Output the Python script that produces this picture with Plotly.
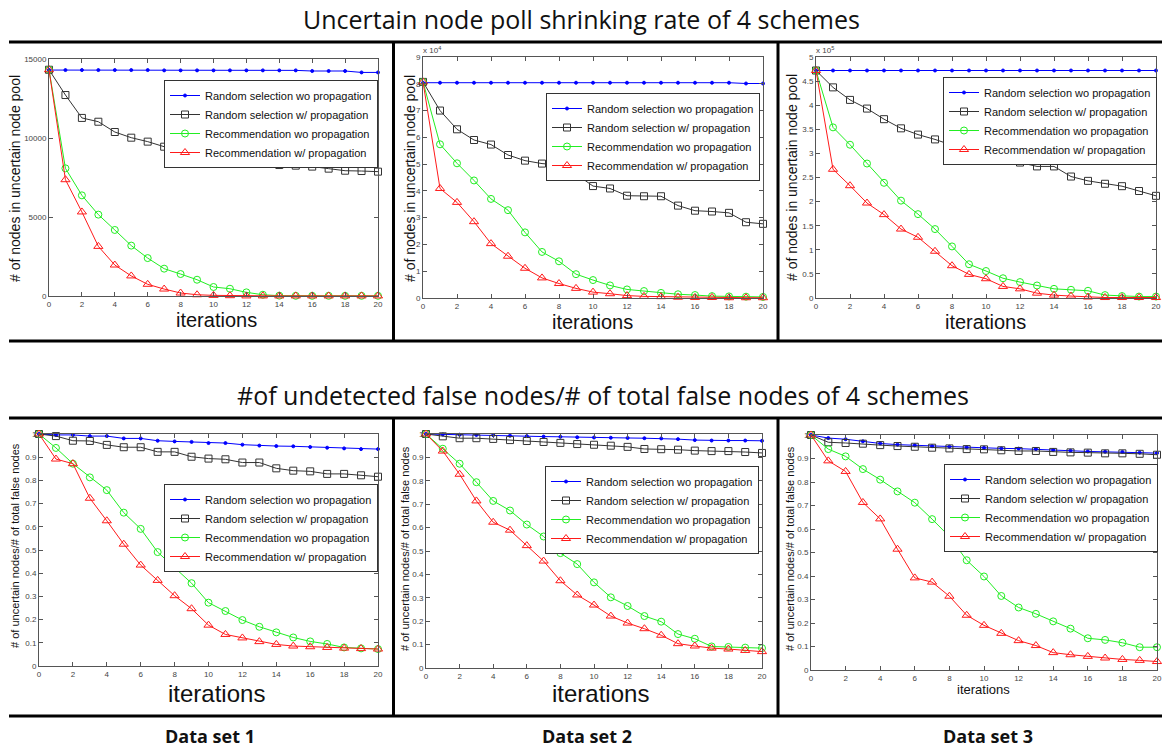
import plotly.graph_objects as go

W, H = 1162, 748

iters = list(range(21))

series_names = ["Random selection wo propagation", "Random selection w/ propagation",
                "Recommendation wo propagation", "Recommendation w/ propagation"]

# ---- Data set 1: uncertain node pool size ----
ds1_pool_rand_wo = [14300, 14300, 14300, 14300, 14300, 14300, 14300, 14280, 14280, 14280, 14280,
                    14280, 14280, 14280, 14280, 14280, 14240, 14240, 14240, 14150, 14150]
ds1_pool_rand_w = [14320, 12720, 11270, 11030, 10380, 10020, 9770, 9450, 9350, 8920, 8690,
                   8440, 8380, 8380, 8290, 8250, 8190, 8060, 7930, 7910, 7870]
ds1_pool_rec_wo = [14320, 8080, 6370, 5150, 4180, 3190, 2400, 1730, 1390, 1030, 570,
                   460, 230, 80, 20, 10, 10, 10, 10, 10, 10]
ds1_pool_rec_w = [14320, 7360, 5320, 3140, 1960, 1270, 740, 440, 190, 80, 40,
                  20, 5, 5, 5, 5, 5, 5, 5, 5, 5]

# ---- Data set 2 (x 10^4) ----
ds2_pool_rand_wo = [8.04, 8.04, 8.04, 8.04, 8.04, 8.04, 8.04, 8.04, 8.04, 8.04, 8.04,
                    8.04, 8.04, 8.04, 8.04, 8.04, 8.04, 8.04, 8.04, 8.01, 8.01]
ds2_pool_rand_w = [8.07, 7.00, 6.30, 5.90, 5.73, 5.34, 5.13, 5.02, 4.97, 4.63, 4.18,
                   4.09, 3.82, 3.80, 3.80, 3.45, 3.26, 3.23, 3.18, 2.83, 2.77]
ds2_pool_rec_wo = [8.07, 5.74, 5.03, 4.39, 3.70, 3.28, 2.45, 1.72, 1.37, 0.89, 0.67,
                   0.47, 0.32, 0.26, 0.19, 0.14, 0.11, 0.07, 0.06, 0.05, 0.04]
ds2_pool_rec_w = [8.07, 4.09, 3.57, 2.85, 2.03, 1.56, 1.11, 0.75, 0.54, 0.36, 0.22,
                  0.16, 0.09, 0.06, 0.05, 0.03, 0.02, 0.02, 0.01, 0.01, 0.01]

# ---- Data set 3 (x 10^5) ----
ds3_pool_rand_wo = [4.72] * 21
ds3_pool_rand_w = [4.72, 4.37, 4.11, 3.93, 3.71, 3.52, 3.39, 3.29, 3.17, 3.09, 3.03,
                   2.91, 2.81, 2.73, 2.73, 2.52, 2.43, 2.37, 2.32, 2.22, 2.12]
ds3_pool_rec_wo = [4.72, 3.54, 3.18, 2.79, 2.39, 2.02, 1.74, 1.43, 1.07, 0.70, 0.56,
                   0.41, 0.33, 0.26, 0.19, 0.17, 0.15, 0.06, 0.04, 0.03, 0.03]
ds3_pool_rec_w = [4.72, 2.67, 2.33, 1.97, 1.73, 1.43, 1.26, 0.97, 0.67, 0.49, 0.40,
                  0.24, 0.19, 0.10, 0.06, 0.04, 0.02, 0.01, 0.01, 0.01, 0.01]

# ---- Undetected false node ratio ----
ds1_false_rand_wo = [1.0, 0.996, 0.996, 0.991, 0.991, 0.981, 0.981, 0.971, 0.968, 0.966, 0.961,
                     0.961, 0.954, 0.950, 0.948, 0.947, 0.944, 0.941, 0.938, 0.935, 0.935]
ds1_false_rand_w = [1.0, 0.991, 0.971, 0.970, 0.953, 0.943, 0.943, 0.923, 0.923, 0.902, 0.894,
                    0.891, 0.877, 0.877, 0.852, 0.842, 0.839, 0.828, 0.828, 0.822, 0.816]
ds1_false_rec_wo = [1.0, 0.940, 0.872, 0.813, 0.758, 0.661, 0.591, 0.491, 0.425, 0.357, 0.273,
                    0.237, 0.198, 0.169, 0.145, 0.123, 0.106, 0.095, 0.080, 0.076, 0.073]
ds1_false_rec_w = [1.0, 0.892, 0.872, 0.723, 0.626, 0.525, 0.435, 0.369, 0.303, 0.247, 0.176,
                   0.136, 0.121, 0.105, 0.093, 0.086, 0.083, 0.080, 0.077, 0.075, 0.073]

ds2_false_rand_wo = [1.0, 0.998, 0.997, 0.996, 0.995, 0.993, 0.991, 0.989, 0.988, 0.986, 0.985,
                     0.984, 0.983, 0.982, 0.981, 0.978, 0.974, 0.972, 0.972, 0.972, 0.971]
ds2_false_rand_w = [1.0, 0.990, 0.982, 0.982, 0.979, 0.974, 0.970, 0.966, 0.962, 0.957, 0.954,
                    0.950, 0.945, 0.936, 0.935, 0.933, 0.929, 0.927, 0.927, 0.923, 0.919]
ds2_false_rec_wo = [1.0, 0.937, 0.873, 0.794, 0.714, 0.673, 0.613, 0.562, 0.491, 0.444, 0.366,
                    0.302, 0.265, 0.222, 0.198, 0.145, 0.125, 0.092, 0.090, 0.087, 0.085]
ds2_false_rec_w = [1.0, 0.927, 0.828, 0.714, 0.623, 0.589, 0.523, 0.457, 0.373, 0.312, 0.269,
                   0.222, 0.192, 0.168, 0.140, 0.104, 0.094, 0.085, 0.081, 0.075, 0.070]

ds3_false_rand_wo = [1.0, 0.987, 0.982, 0.973, 0.964, 0.959, 0.956, 0.952, 0.950, 0.947, 0.946,
                     0.943, 0.942, 0.940, 0.936, 0.933, 0.930, 0.929, 0.928, 0.925, 0.923]
ds3_false_rand_w = [1.0, 0.969, 0.966, 0.963, 0.957, 0.953, 0.950, 0.946, 0.943, 0.940, 0.939,
                    0.935, 0.932, 0.932, 0.928, 0.926, 0.925, 0.922, 0.922, 0.920, 0.916]
ds3_false_rec_wo = [1.0, 0.940, 0.909, 0.855, 0.810, 0.760, 0.712, 0.642, 0.568, 0.467, 0.398,
                    0.315, 0.266, 0.239, 0.207, 0.176, 0.135, 0.128, 0.116, 0.097, 0.097]
ds3_false_rec_w = [1.0, 0.890, 0.845, 0.713, 0.643, 0.514, 0.392, 0.374, 0.314, 0.233, 0.190,
                   0.156, 0.125, 0.104, 0.074, 0.065, 0.058, 0.051, 0.045, 0.041, 0.036]

x_ticks = [0, 2, 4, 6, 8, 10, 12, 14, 16, 18, 20]

styles = [
    dict(color="#0000ff", symbol="circle", size=3),
    dict(color="#333333", symbol="square-open", size=7),
    dict(color="#22ee22", symbol="circle-open", size=7),
    dict(color="#ff1a1a", symbol="triangle-up-open", size=8),
]

panels = [
    dict(data=[ds1_pool_rand_wo, ds1_pool_rand_w, ds1_pool_rec_wo, ds1_pool_rec_w],
         x=(49, 378), y=(59, 296), yrange=[0, 15000], ytick=[0, 5000, 10000, 15000],
         leg=(378, 80)),
    dict(data=[ds2_pool_rand_wo, ds2_pool_rand_w, ds2_pool_rec_wo, ds2_pool_rec_w],
         x=(423, 763), y=(57, 298), yrange=[0, 9], ytick=list(range(10)),
         leg=(760, 93)),
    dict(data=[ds3_pool_rand_wo, ds3_pool_rand_w, ds3_pool_rec_wo, ds3_pool_rec_w],
         x=(816, 1156), y=(57, 298), yrange=[0, 5], ytick=[0, 0.5, 1, 1.5, 2, 2.5, 3, 3.5, 4, 4.5, 5],
         leg=(1157, 77)),
    dict(data=[ds1_false_rand_wo, ds1_false_rand_w, ds1_false_rec_wo, ds1_false_rec_w],
         x=(39, 378), y=(434, 666), yrange=[0, 1], ytick=[i / 10 for i in range(11)],
         leg=(378, 484)),
    dict(data=[ds2_false_rand_wo, ds2_false_rand_w, ds2_false_rec_wo, ds2_false_rec_w],
         x=(426, 762), y=(434, 668), yrange=[0, 1], ytick=[i / 10 for i in range(11)],
         leg=(759, 466)),
    dict(data=[ds3_false_rand_wo, ds3_false_rand_w, ds3_false_rec_wo, ds3_false_rec_w],
         x=(811, 1157), y=(435, 670), yrange=[0, 1], ytick=[i / 10 for i in range(11)],
         leg=(1158, 464)),
]


def px(v):
    return v / W


def py(v):
    return 1 - v / H


fig = go.Figure()
layout = dict(width=W, height=H, margin=dict(l=0, r=0, t=0, b=0, autoexpand=False),
              paper_bgcolor="white", plot_bgcolor="white", showlegend=True)

axis_common = dict(showgrid=False, zeroline=False, showline=True, linecolor="#555555", linewidth=1,
                   mirror="ticks", ticks="inside", ticklen=4, tickcolor="#555555",
                   tickfont=dict(family="Liberation Sans, Arial", size=8, color="#444444"))

for k, p in enumerate(panels, start=1):
    xa = "x" if k == 1 else f"x{k}"
    ya = "y" if k == 1 else f"y{k}"
    lg = "legend" if k == 1 else f"legend{k}"
    for vals, st, nm in zip(p["data"], styles, series_names):
        fig.add_trace(go.Scatter(
            x=iters, y=vals, mode="lines+markers", name=nm,
            xaxis=xa, yaxis=ya, legend=lg, cliponaxis=False,
            line=dict(color=st["color"], width=1),
            marker=dict(symbol=st["symbol"], size=st["size"], color=st["color"],
                        line=dict(color=st["color"], width=1)),
        ))
    xkey = "xaxis" if k == 1 else f"xaxis{k}"
    ykey = "yaxis" if k == 1 else f"yaxis{k}"
    layout[xkey] = dict(axis_common, domain=[px(p["x"][0]), px(p["x"][1])], anchor=ya,
                        range=[0, 20], tickvals=x_ticks)
    layout[ykey] = dict(axis_common, domain=[py(p["y"][1]), py(p["y"][0])], anchor=xa,
                        range=p["yrange"], tickvals=p["ytick"], tickformat="~g" if k > 1 else "d")
    layout[lg] = dict(x=px(p["leg"][0]), y=py(p["leg"][1]), xanchor="right", yanchor="top",
                      xref="paper", yref="paper", bgcolor="white", bordercolor="#333333",
                      borderwidth=1, font=dict(family="Liberation Sans, Arial", size=11, color="#111111"),
                      tracegroupgap=0)

fig.update_layout(**layout)

ann = []


def add_text(text, cx, cy, font, angle=0):
    ann.append(dict(text=text, x=px(cx), y=py(cy), xref="paper", yref="paper", showarrow=False,
                    xanchor="center", yanchor="middle", textangle=angle, font=font))


title_font = dict(family="Open Sans", size=25, color="#111111")
add_text("Uncertain node poll shrinking rate of 4 schemes", 581, 19, title_font)
add_text("#of undetected false nodes/# of total false nodes of 4 schemes", 603, 395, title_font)
for cx, txt in [(210, "Data set 1"), (587, "Data set 2"), (988, "Data set 3")]:
    add_text(f"<b>{txt}</b>", cx, 736, dict(family="Open Sans", size=18, color="#111111"))

for cx, cy, sz in [(216, 320, 20), (592, 322, 20), (985, 322, 20),
                   (216, 693, 24), (600, 693, 24), (983, 689, 13)]:
    add_text("iterations", cx, cy, dict(family="Liberation Sans, Arial", size=sz, color="#111111"))

for cx, cy in [(15, 179), (410, 179), (792, 178)]:
    add_text("# of nodes in uncertain node pool", cx, cy,
             dict(family="Liberation Sans, Arial", size=14, color="#111111"), angle=-90)
for cx, cy in [(15, 546), (405, 548), (790, 549)]:
    add_text("# of uncertain nodes/# of total false nodes", cx, cy,
             dict(family="Liberation Sans, Arial", size=11, color="#111111"), angle=-90)

for cx, txt in [(432, "x 10<sup>4</sup>"), (825, "x 10<sup>5</sup>")]:
    add_text(txt, cx, 50, dict(family="Liberation Sans, Arial", size=8, color="#444444"))

shapes = []
lw = 3
for yy in [42, 341, 418, 716]:
    shapes.append(dict(type="line", xref="paper", yref="paper", x0=px(9), x1=1, y0=py(yy), y1=py(yy),
                       line=dict(color="black", width=lw)))
for (y0, y1) in [(42, 341), (418, 716)]:
    for xx in [393.5, 778]:
        shapes.append(dict(type="line", xref="paper", yref="paper", x0=px(xx), x1=px(xx), y0=py(y0),
                           y1=py(y1), line=dict(color="black", width=lw)))

fig.update_layout(annotations=ann, shapes=shapes)
fig.write_html("out.html")
